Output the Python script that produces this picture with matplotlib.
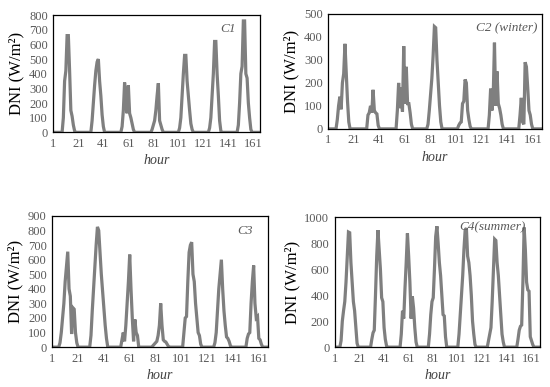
import numpy as np
import matplotlib.pyplot as plt

plt.rcParams['font.family'] = ['Liberation Serif', 'DejaVu Serif']

# hourly DNI (W/m2), 7 days x 24 hours
c1 = [0,0,0,0,0,0,0,0,100,350,420,660,660,420,150,110,50,10,0,0,0,0,0,0,
      0,0,0,0,0,0,0,80,200,320,420,480,500,350,250,120,40,0,0,0,0,0,0,0,
      0,0,0,0,0,0,0,40,150,340,200,130,320,130,100,60,20,0,0,0,0,0,0,0,
      0,0,0,0,0,0,0,20,50,80,150,250,335,80,50,20,0,0,0,0,0,0,0,0,
      0,0,0,0,0,30,100,250,400,525,525,350,250,150,60,20,0,0,0,0,0,0,0,0,
      0,0,0,0,0,30,100,250,400,620,620,400,250,80,10,0,0,0,0,0,0,0,0,0,
      0,0,0,0,50,200,400,450,760,760,400,370,200,100,20,0,0,0,0,0,0,0,0,0]

c2 = [0,0,0,0,0,0,0,40,100,140,85,200,240,370,250,120,30,0,0,0,0,0,0,0,
      0,0,0,0,0,0,0,60,70,100,70,170,80,70,65,15,0,0,0,0,0,0,0,0,
      0,0,0,0,0,0,80,200,90,180,75,360,110,270,110,110,70,20,0,0,0,0,0,0,
      0,0,0,0,0,0,20,80,150,220,320,445,440,300,200,100,30,0,0,0,0,0,0,0,
      0,0,0,0,0,0,15,25,30,110,120,215,200,80,40,10,0,0,0,0,0,0,0,0,
      0,0,0,0,0,0,60,175,80,140,375,100,250,110,90,60,20,0,0,0,0,0,0,0,
      0,0,0,0,0,0,60,135,30,20,290,270,180,80,60,20,0,0,0,0,0,0,0,0]

c3 = [0,0,0,0,0,0,30,100,200,300,450,550,655,400,350,90,270,260,100,30,0,0,0,0,
      0,0,0,0,0,0,80,250,400,550,700,825,800,650,500,380,250,150,60,0,0,0,0,0,
      0,0,0,0,0,0,50,100,40,150,300,450,635,400,200,40,190,100,80,0,0,0,0,0,
      0,0,0,0,0,0,10,20,30,40,80,150,300,150,50,40,35,20,5,0,0,0,0,0,
      0,0,0,0,0,0,100,200,210,450,650,700,720,500,450,300,200,100,80,20,0,0,0,0,
      0,0,0,0,0,0,30,100,250,400,500,600,400,250,150,70,60,40,10,0,0,0,0,0,
      0,0,0,0,0,0,0,60,90,100,300,450,560,300,200,210,60,50,20,0,0,0,0,0]

c4 = [0,0,0,0,0,50,200,280,350,500,700,885,880,650,500,350,280,150,30,0,0,0,0,0,
      0,0,0,0,0,0,60,110,130,400,700,900,750,600,380,350,150,60,10,0,0,0,0,0,
      0,0,0,0,0,0,100,280,220,450,650,875,700,500,220,390,300,150,40,0,0,0,0,0,
      0,0,0,0,0,100,250,350,380,600,850,930,800,650,550,400,250,240,80,0,0,0,0,0,
      0,0,0,0,0,100,250,400,550,750,900,915,700,650,550,400,200,100,20,0,0,0,0,0,
      0,0,0,0,0,50,100,150,350,600,830,820,650,550,400,250,100,40,0,0,0,0,0,0,
      0,0,0,0,0,60,130,160,170,500,920,750,500,440,430,80,50,20,0,0,0,0,0,0]

hours = np.arange(1, 169)
xticks = [1, 21, 41, 61, 81, 101, 121, 141, 161]

panels = [
    (c1, 'C1', 800, 100, 166, [0.097, 0.658, 0.375, 0.303], (0.885, 0.93)),
    (c2, 'C2 (winter)', 500, 100, 168, [0.597, 0.667, 0.388, 0.297], (0.98, 0.93)),
    (c3, 'C3', 900, 100, 168, [0.095, 0.103, 0.392, 0.339], (0.93, 0.93)),
    (c4, 'C4(summer)', 1000, 200, 168, [0.609, 0.103, 0.373, 0.336], (0.93, 0.97)),
]

fig = plt.figure(figsize=(5.5, 3.87), dpi=100)
for vals, name, ymax, ystep, xmax, pos, tpos in panels:
    ax = fig.add_axes(pos)
    ax.plot(hours, vals, color='#7f7f7f', lw=2.3, solid_joinstyle='miter')
    ax.set_xlim(1, xmax)
    ax.set_ylim(0, ymax)
    ax.set_xticks(xticks)
    ax.set_yticks(np.arange(0, ymax + 1, ystep))
    ax.tick_params(length=0, labelsize=9, colors='#595959', pad=4)
    for s in ax.spines.values():
        s.set_color('black')
        s.set_linewidth(0.9)
    ax.set_ylabel('DNI (W/m²)', fontsize=12, labelpad=3)
    ax.set_xlabel('hour', fontsize=10, style='italic', color='#404040', labelpad=3)
    ax.text(tpos[0], tpos[1], name, transform=ax.transAxes, ha='right', va='top',
            fontsize=9.5, style='italic', color='#595959')

fig.savefig('out.png', dpi=100)
